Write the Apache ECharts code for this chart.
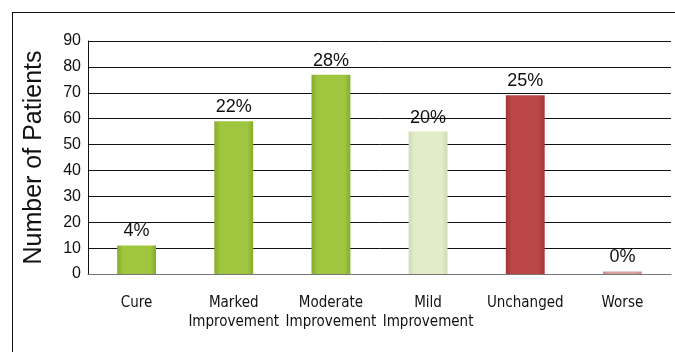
<!DOCTYPE html>
<html>
<head>
<meta charset="utf-8">
<script src="https://cdn.jsdelivr.net/npm/echarts@6/dist/echarts.min.js"></script>
<style>
  html, body { margin: 0; padding: 0; background: #fff; }
  #frame { position: absolute; left: 12px; top: 12px; width: 700px; height: 400px; border-left: 1.5px solid #111; border-top: 1.5px solid #111; }
  #chart { position: absolute; left: 0; top: 0; width: 675px; height: 352px; }
</style>
</head>
<body>
<div id="frame"></div>
<div id="chart"></div>
<script>
const categories = ['Cure', 'Marked\nImprovement', 'Moderate\nImprovement', 'Mild\nImprovement', 'Unchanged', 'Worse'];
const patients = [11, 59, 77, 55, 69, 1];
const percentLabels = ['4%', '22%', '28%', '20%', '25%', '0%'];
const yTicks = [0, 10, 20, 30, 40, 50, 60, 70, 80, 90];

function grad(edge, mid) {
  return new echarts.graphic.LinearGradient(0, 0, 1, 0, [
    { offset: 0, color: edge },
    { offset: 0.15, color: mid },
    { offset: 0.85, color: mid },
    { offset: 1, color: edge }
  ]);
}
const barColors = [
  grad('#86ab2c', '#9fc63e'),
  grad('#86ab2c', '#9fc63e'),
  grad('#86ab2c', '#9fc63e'),
  grad('#cfdcb0', '#e2ecc9'),
  grad('#a33535', '#bb4747'),
  grad('#c98a8a', '#d9a0a0')
];

const chart = echarts.init(document.getElementById('chart'), null, { renderer: 'canvas' });
chart.setOption({
  animation: false,
  grid: { left: 88, right: 4, top: 41, bottom: 78, containLabel: false },
  xAxis: {
    type: 'category',
    data: categories,
    axisLine: { show: true, lineStyle: { color: '#777', width: 1 } },
    axisTick: { show: false },
    axisLabel: {
      interval: 0,
      margin: 20,
      fontFamily: '"Liberation Sans Narrow", "DejaVu Sans Condensed", "Roboto", sans-serif',
      fontSize: 15,
      lineHeight: 19,
      color: '#111'
    }
  },
  yAxis: {
    type: 'value',
    min: 0,
    max: 90,
    interval: 10,
    name: 'Number of Patients',
    nameLocation: 'middle',
    nameGap: 41,
    nameTextStyle: { fontFamily: '"Liberation Sans", Arial, sans-serif', fontSize: 25, color: '#111' },
    axisLine: { show: true, lineStyle: { color: '#111', width: 1 } },
    axisTick: { show: false },
    axisLabel: {
      fontFamily: '"Liberation Sans", Arial, sans-serif',
      fontSize: 16,
      color: '#111',
      margin: 7,
      formatter: v => yTicks.includes(v) ? String(v) : ''
    },
    splitLine: { show: true, lineStyle: { color: '#111', width: 1 } }
  },
  series: [{
    type: 'bar',
    barWidth: '40%',
    data: patients.map((v, i) => ({ value: v, itemStyle: { color: barColors[i] } })),
    label: {
      show: true,
      position: 'top',
      distance: 5,
      fontFamily: '"Liberation Sans", Arial, sans-serif',
      fontSize: 18,
      color: '#111',
      formatter: p => percentLabels[p.dataIndex]
    }
  }]
});
</script>
</body>
</html>
